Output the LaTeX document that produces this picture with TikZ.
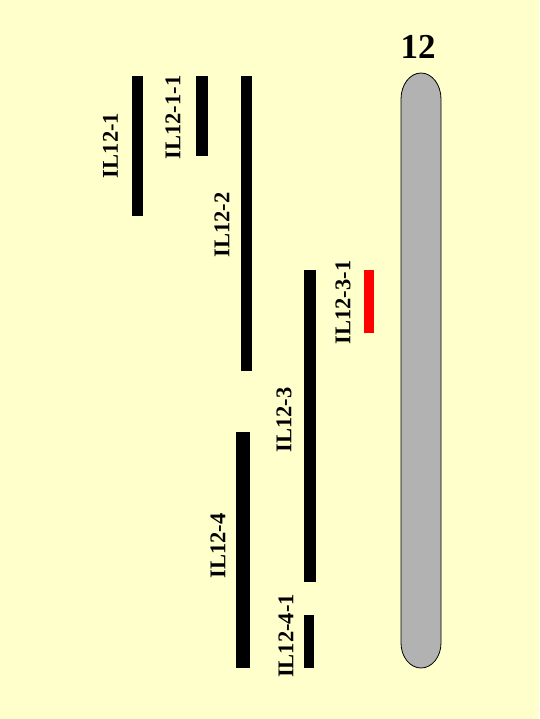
\documentclass[tikz,border=0pt]{standalone}
\usepackage{fontspec}
\setmainfont{Liberation Serif}
\definecolor{bgyellow}{RGB}{255,255,204}
\definecolor{chromgray}{RGB}{178,178,178}
\definecolor{segred}{RGB}{255,0,0}
\tikzset{
  bar/.style={fill=black, draw=none, inner sep=0pt, outer sep=0pt},
  redbar/.style={fill=segred, draw=none, inner sep=0pt, outer sep=0pt},
  lbl/.style={rotate=90, font=\fontsize{22.5}{22.5}\selectfont\bfseries, inner sep=0pt},
}
\newcommand{\segbar}[6]{%
  \node[#6, anchor=north west, minimum width={#3-#2}, minimum height={#5-#4}] (#1) at (#2,#4) {};}
\begin{document}
\begin{tikzpicture}[x=1pt,y=-1pt]
\useasboundingbox (0,0) rectangle (539,719);
\fill[bgyellow] (0,0) rectangle (539,719);
% chromosome
\draw[fill=chromgray, line width=0.8pt]
  (401,643) -- (401,99) arc[start angle=180, end angle=360, x radius=20, y radius=26]
  -- (441,643) arc[start angle=0, end angle=180, x radius=20, y radius=25] -- cycle;
\node[inner sep=0pt, font=\fontsize{35}{35}\selectfont\bfseries] (chr) at (418,47) {12};
% bars
\segbar{b1}{132}{143}{76}{216}{bar}
\segbar{b11}{196}{207.5}{76}{156}{bar}
\segbar{b2}{240.5}{252}{76}{371}{bar}
\segbar{b3}{303.5}{316}{270}{582}{bar}
\segbar{b31}{363.5}{374}{270}{333}{redbar}
\segbar{b4}{236}{249.5}{432}{668}{bar}
\segbar{b41}{303.5}{313.5}{615}{668}{bar}
% labels
\node[lbl] (l1) at (110.5,145.5) {IL12-1};
\node[lbl] (l11) at (173,117.5) {IL12-1-1};
\node[lbl] (l2) at (222,225) {IL12-2};
\node[lbl] (l31) at (343,302.5) {IL12-3-1};
\node[lbl] (l3) at (284,420) {IL12-3};
\node[lbl] (l4) at (218,546) {IL12-4};
\node[lbl] (l41) at (286,636) {IL12-4-1};
\end{tikzpicture}
\end{document}
